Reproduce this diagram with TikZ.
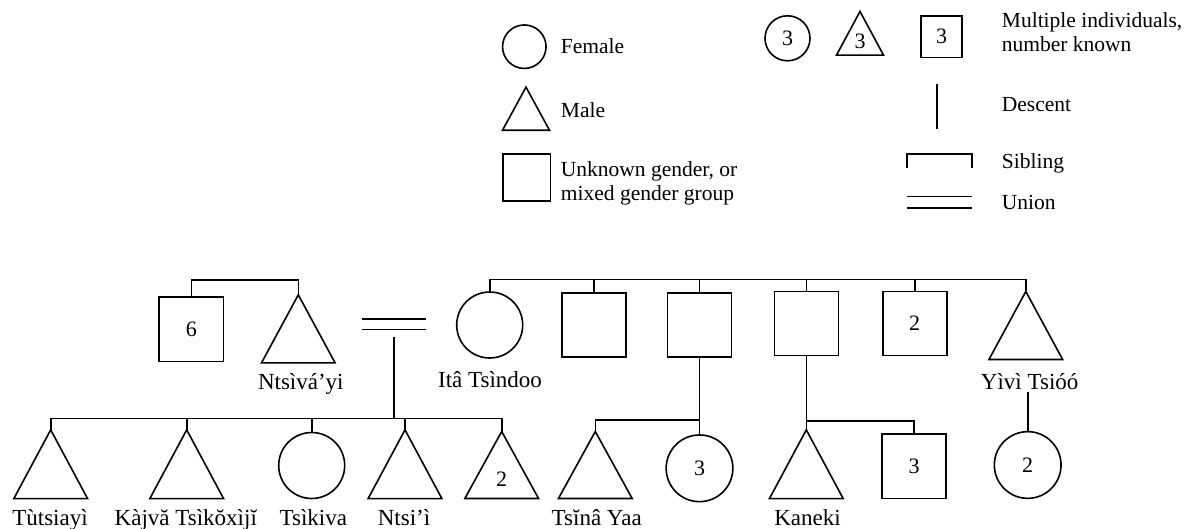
\documentclass[tikz,border=0pt]{standalone}
\usepackage{fontspec}
\setmainfont{Liberation Serif}
\usetikzlibrary{calc}
\tikzset{
  ln/.style={line width=1.6pt},
  sqbox/.style={draw, ln, rectangle, minimum size=#1, inner sep=0pt, font=\fontsize{22}{24}\selectfont},
  cbox/.style={draw, ln, circle, minimum size=#1, inner sep=0pt, font=\fontsize{22}{24}\selectfont},
  tbox/.style={rectangle, minimum width=73.3pt, inner sep=0pt},
  num/.style={inner sep=0pt, font=\fontsize{22}{24}\selectfont},
  lbl/.style={inner sep=0pt, anchor=base, font=\fontsize{23}{26}\selectfont},
  lgd/.style={inner sep=0pt, anchor=base west, align=left, font=\fontsize{21.5}{24.5}\selectfont},
}
\newcommand\mytri[5][73.3]{% [width] name x y height
  \node[tbox, minimum width=#1pt, minimum height=#5pt] (#2) at (#3,#4) {};
  \draw[ln] (#2.north) -- (#2.south east) -- (#2.south west) -- cycle;}
\begin{document}
\begin{tikzpicture}[x=1pt,y=-1pt]
\useasboundingbox (0,0) rectangle (1192,529);

% ---------------- legend ----------------
\node[cbox=43.5pt] (lfem) at (524.3,46.7) {};
\node[lgd] (lfemt) at (560.7,54) {Female};
\mytri[46.6]{lmale}{526}{108.7}{42.7}
\node[lgd] (lmalet) at (560.7,117.3) {Male};
\node[sqbox=47.5pt] (lunk) at (526.7,177.5) {};
\node[lgd] (lunkt) at (560.7,201) {Unknown gender, or\\mixed gender group};

\node[cbox=45pt] (lc3) at (787.5,38.3) {3};
\mytri[46.6]{lt3}{860}{33.3}{43.3}
\node[num] at ([yshift=-8pt]lt3.center) {3};
\node[sqbox=41.5pt] (ls3) at (941.5,36.7) {3};
\node[lgd] (lmult) at (1001.7,51.7) {Multiple individuals,\\number known};

\coordinate (ld1) at (936.7,84);
\coordinate (ld2) at (936.7,129.3);
\draw[ln] (ld1) -- (ld2);
\node[lgd] (ldt) at (1001.7,111.7) {Descent};

\coordinate (lsa) at (906.7,168.3);
\coordinate (lsb) at (971.7,168.3);
\coordinate (lsbar) at (0,154.3);
\draw[ln] (lsa) -- (lsa |- lsbar) -- (lsb |- lsbar) -- (lsb);
\node[lgd] (lst) at (1001.7,168.3) {Sibling};

\coordinate (lu1) at (906.7,196.7);
\coordinate (lu2) at (971.7,196.7);
\coordinate (lu3) at (906.7,208.3);
\coordinate (lu4) at (971.7,208.3);
\draw[ln] (lu1) -- (lu2);
\draw[ln] (lu3) -- (lu4);
\node[lgd] (lut) at (1001.7,209.3) {Union};

% ---------------- tree: generation 1 ----------------
\node[sqbox=64.5pt] (sq6) at (191.3,329.2) {6};
\mytri{ntsv}{298.3}{328.9}{67.7}
\node[lbl] (ntsvl) at (300.8,390) {Ntsìvá’yi};

\node[rectangle, minimum width=64.3pt, minimum height=10pt, inner sep=0pt] (un) at (393.9,324.3) {};
\draw[ln] (un.north west) -- (un.north east);
\draw[ln] (un.south west) -- (un.south east);

\node[cbox=66pt] (ita) at (489.7,325) {};
\node[lbl] (ital) at (490,387.7) {Itâ Tsìndoo};
\node[sqbox=64pt] (s1) at (594.2,325) {};
\node[sqbox=64pt] (s2) at (699.5,325) {};
\node[sqbox=64pt] (s3) at (806.3,323.7) {};
\node[sqbox=64pt] (s4) at (914.7,323.7) {2};
\mytri{yivi}{1025.8}{325.5}{67.6}
\node[lbl] (yivil) at (1029.7,390) {Yìvì Tsióó};

% sibling bars, generation 1
\coordinate (bar1) at (0,280);
\draw[ln] (sq6.north) -- (sq6.north |- bar1) -- (ntsv.north |- bar1) -- (ntsv.north);
\coordinate (bar2) at (0,279.5);
\draw[ln] (ita.north) -- (ita.north |- bar2) -- (yivi.north |- bar2) -- (yivi.north);
\foreach \n in {s1,s2,s3,s4} \draw[ln] (\n.north) -- (\n.north |- bar2);

% ---------------- tree: generation 2 ----------------
\mytri{tut}{50.7}{464.2}{68.3}
\mytri{kaj}{186.7}{464.2}{68.3}
\node[cbox=66pt] (tsik) at (311.7,465.5) {};
\mytri{ntsi}{405}{464.2}{68.3}
\mytri{tt2}{501.7}{465}{66.6}
\node[num] at ([yshift=-14pt]tt2.center) {2};

\node[lbl] (tutl) at (50,525) {Tùtsiayì};
\node[lbl] (kajl) at (185.8,525) {Kàjvă Tsìkŏxìjĭ};
\node[lbl] (tsikl) at (313.3,525) {Tsìkiva};
\node[lbl] (ntsil) at (404,525) {Ntsi’ì};

\coordinate (cbar) at (0,418.3);
\draw[ln] ([yshift=-8pt]un.south) -- (un.south |- cbar);
\draw[ln] (tut.north) -- (tut.north |- cbar) -- (tt2.north |- cbar) -- (tt2.north);
\foreach \n in {kaj,tsik,ntsi} \draw[ln] (\n.north) -- (\n.north |- cbar);

\mytri{tsina}{595.3}{465}{66.6}
\node[cbox=66.7pt] (c3) at (699.5,468.3) {3};
\node[lbl] (tsinal) at (596.7,525) {Tsĭnâ Yaa};
\coordinate (bar3) at (0,420);
\draw[ln] (s2.south) -- (c3.north);
\draw[ln] (tsina.north) -- (tsina.north |- bar3) -- (s2.south |- bar3);

\mytri{kan}{806.3}{464.2}{68.3}
\node[sqbox=64.5pt] (sq3) at (914,466.2) {3};
\node[lbl] (kanl) at (807.5,525) {Kaneki};
\coordinate (bar4) at (0,420.7);
\draw[ln] (s3.south) -- (kan.north);
\draw[ln] (s3.south |- bar4) -- (sq3.north |- bar4) -- (sq3.north);

\node[cbox=66.7pt] (c2) at (1027.7,465) {2};
\draw[ln] ([yshift=-2pt]yivil.base -| c2.north) -- (c2.north);
\end{tikzpicture}
\end{document}
